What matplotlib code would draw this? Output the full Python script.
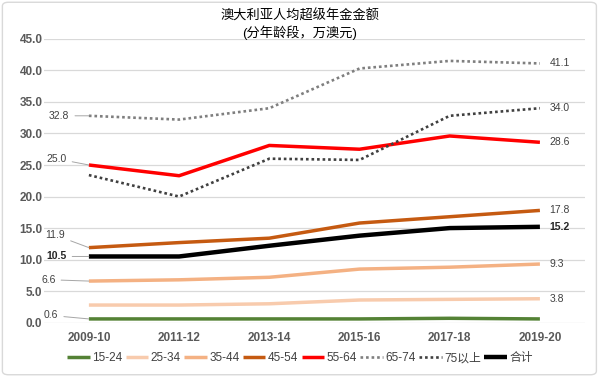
import numpy as np
import matplotlib.pyplot as plt
from matplotlib.patches import FancyBboxPatch

plt.rcParams['font.family'] = ['Liberation Sans', 'Noto Sans CJK SC', 'DejaVu Sans']

years = ['2009-10', '2011-12', '2013-14', '2015-16', '2017-18', '2019-20']
age_15_24 = [0.6, 0.6, 0.6, 0.6, 0.7, 0.6]
age_25_34 = [2.8, 2.8, 3.0, 3.6, 3.7, 3.8]
age_35_44 = [6.6, 6.8, 7.2, 8.5, 8.8, 9.3]
age_45_54 = [11.9, 12.7, 13.4, 15.8, 16.8, 17.8]
age_55_64 = [25.0, 23.3, 28.1, 27.5, 29.6, 28.6]
age_65_74 = [32.8, 32.2, 34.0, 40.3, 41.5, 41.1]
age_75_plus = [23.4, 20.0, 26.0, 25.8, 32.8, 34.0]
total = [10.5, 10.5, 12.2, 13.8, 15.0, 15.2]

dots = (0, (1, 1.1))
series = [
    ('15-24', age_15_24, '#548235', '-', 2.5),
    ('25-34', age_25_34, '#F8CBAD', '-', 2.5),
    ('35-44', age_35_44, '#F4B183', '-', 2.5),
    ('45-54', age_45_54, '#C55A11', '-', 2.5),
    ('55-64', age_55_64, '#FF0000', '-', 2.5),
    ('65-74', age_65_74, '#7F7F7F', dots, 1.9),
    ('75以上', age_75_plus, '#404040', dots, 1.9),
    ('合计', total, '#000000', '-', 3.2),
]

fig = plt.figure(figsize=(6, 3.77), dpi=100)
border = FancyBboxPatch((0.004, 0.006), 0.99, 0.988, boxstyle='round,pad=0,rounding_size=0.01',
                        transform=fig.transFigure, fc='white', ec='#D9D9D9', lw=1, zorder=-5)
fig.patches.append(border)
ax = fig.add_axes([0.073, 0.144, 0.902, 0.753])
ax.patch.set_alpha(0)

x = np.arange(len(years))
for name, vals, col, ls, lw in series:
    ax.plot(x, vals, color=col, linestyle=ls, lw=lw, label=name, solid_capstyle='butt')

ax.set_xlim(-0.5, len(years) - 0.5)
ax.set_ylim(0, 45)
ax.set_yticks(np.arange(0, 46, 5))
ax.set_yticklabels(['%.1f' % v for v in np.arange(0, 46, 5)])
ax.set_xticks(x)
ax.set_xticklabels(years)
ax.grid(axis='y', color='#D9D9D9', lw=0.9)
ax.set_axisbelow(True)
for s in ax.spines.values():
    s.set_visible(False)
ax.tick_params(length=0, labelsize=8.5, labelcolor='#595959')
ax.tick_params(axis='y', pad=1)
ax.tick_params(axis='x', pad=7)
for lab in ax.get_xticklabels() + ax.get_yticklabels():
    lab.set_fontweight('bold')

# left labels with leader lines (offset in points)
left = [
    (age_65_74, (-14, 0), False),
    (age_55_64, (-16, 4.5), False),
    (age_45_54, (-17, 9), False),
    (total, (-16, 0), True),
    (age_35_44, (-24, 1), False),
    (age_15_24, (-22, 2.5), False),
]
for vals, off, bold in left:
    ax.annotate('%.1f' % vals[0], xy=(0, vals[0]), xytext=off, textcoords='offset points',
                ha='right', va='center', fontsize=7.5, color='#404040' if not bold else '#262626',
                fontweight='bold' if bold else 'normal',
                arrowprops=dict(arrowstyle='-', color='#A6A6A6', lw=0.7, shrinkA=2, shrinkB=0))

# right labels
right = [(age_65_74, False), (age_75_plus, False), (age_55_64, False), (age_45_54, False),
         (total, True), (age_35_44, False), (age_25_34, False)]
for vals, bold in right:
    ax.annotate('%.1f' % vals[-1], xy=(x[-1], vals[-1]), xytext=(7, 0), textcoords='offset points',
                ha='left', va='center', fontsize=7.5, color='#404040' if not bold else '#262626',
                fontweight='bold' if bold else 'normal')

fig.text(0.5, 0.958, '澳大利亚人均超级年金金额', ha='center', va='center', fontsize=9.5, color='#000000')
fig.text(0.5, 0.912, '(分年龄段，万澳元)', ha='center', va='center', fontsize=9.5, color='#000000')

leg = fig.legend(loc='center', bbox_to_anchor=(0.5, 0.05), ncol=8, frameon=False, fontsize=8.5,
                 handlelength=1.9, columnspacing=0.3, handletextpad=0.2)
for t in leg.get_texts():
    t.set_color('#404040')

fig.savefig('out.png', dpi=100)
